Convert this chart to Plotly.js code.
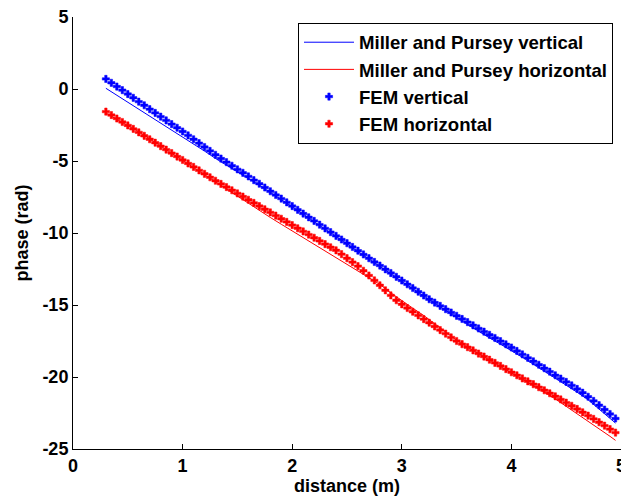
<!DOCTYPE html>
<html>
<head>
<meta charset="utf-8">
<script src="https://cdn.plot.ly/plotly-3.0.1.min.js"></script>
<style>html,body{margin:0;padding:0;background:#fff;}#chart{width:621px;height:501px;}</style>
</head>
<body>
<div id="chart"></div>
<script>
// FEM sample positions (m)
var femX = [0.30,0.35,0.40,0.45,0.50,0.55,0.60,0.65,0.70,0.75,0.80,0.85,0.90,0.95,1.00,1.05,1.10,1.15,1.20,1.25,1.30,1.35,1.40,1.45,1.50,1.55,1.60,1.65,1.70,1.75,1.80,1.85,1.90,1.95,2.00,2.05,2.10,2.15,2.20,2.25,2.30,2.35,2.40,2.45,2.50,2.55,2.60,2.65,2.70,2.75,2.80,2.85,2.90,2.95,3.00,3.05,3.10,3.15,3.20,3.25,3.30,3.35,3.40,3.45,3.50,3.55,3.60,3.65,3.70,3.75,3.80,3.85,3.90,3.95,4.00,4.05,4.10,4.15,4.20,4.25,4.30,4.35,4.40,4.45,4.50,4.55,4.60,4.65,4.70,4.75,4.80,4.85,4.90,4.95];
// FEM vertical phase (rad)
var femVertical = [0.70,0.43,0.17,-0.08,-0.35,-0.61,-0.88,-1.13,-1.40,-1.66,-1.92,-2.18,-2.44,-2.69,-2.95,-3.22,-3.49,-3.76,-4.03,-4.30,-4.57,-4.83,-5.08,-5.33,-5.58,-5.82,-6.07,-6.33,-6.58,-6.84,-7.10,-7.36,-7.61,-7.87,-8.13,-8.39,-8.65,-8.91,-9.16,-9.42,-9.68,-9.94,-10.20,-10.45,-10.71,-10.97,-11.23,-11.49,-11.75,-12.01,-12.26,-12.52,-12.78,-13.04,-13.30,-13.56,-13.82,-14.08,-14.34,-14.60,-14.83,-15.06,-15.29,-15.52,-15.75,-15.97,-16.19,-16.41,-16.63,-16.85,-17.07,-17.29,-17.51,-17.73,-17.95,-18.19,-18.43,-18.67,-18.91,-19.15,-19.39,-19.63,-19.88,-20.11,-20.34,-20.58,-20.83,-21.09,-21.37,-21.66,-21.96,-22.26,-22.57,-22.88];
// FEM horizontal phase (rad)
var femHorizontal = [-1.57,-1.81,-2.05,-2.29,-2.53,-2.77,-3.01,-3.25,-3.49,-3.73,-3.97,-4.21,-4.45,-4.69,-4.93,-5.17,-5.41,-5.65,-5.89,-6.13,-6.37,-6.59,-6.81,-7.03,-7.25,-7.47,-7.69,-7.91,-8.13,-8.35,-8.57,-8.79,-9.01,-9.23,-9.45,-9.67,-9.89,-10.11,-10.33,-10.55,-10.77,-10.99,-11.20,-11.47,-11.75,-12.02,-12.30,-12.62,-12.95,-13.29,-13.63,-13.98,-14.33,-14.67,-14.95,-15.21,-15.47,-15.72,-15.98,-16.23,-16.49,-16.74,-16.99,-17.25,-17.50,-17.72,-17.93,-18.15,-18.37,-18.58,-18.80,-19.02,-19.23,-19.45,-19.67,-19.88,-20.10,-20.30,-20.50,-20.71,-20.92,-21.13,-21.34,-21.56,-21.78,-22.00,-22.22,-22.45,-22.68,-22.91,-23.14,-23.38,-23.62,-23.86];
// Miller and Pursey positions (m)
var mpX = [0.3,0.4,0.5,0.6,0.7,0.8,0.9,1.0,1.1,1.2,1.3,1.4,1.5,1.6,1.7,1.8,1.9,2.0,2.1,2.2,2.3,2.4,2.5,2.6,2.7,2.8,2.9,3.0,3.1,3.2,3.3,3.4,3.5,3.6,3.7,3.8,3.9,4.0,4.1,4.2,4.3,4.4,4.5,4.6,4.7,4.8,4.9,4.95];
var mpVertical = [0.05,-0.43,-0.90,-1.38,-1.85,-2.34,-2.82,-3.30,-3.79,-4.31,-4.82,-5.28,-5.73,-6.19,-6.68,-7.18,-7.66,-8.18,-8.68,-9.22,-9.72,-10.25,-10.74,-11.29,-11.79,-12.32,-12.83,-13.37,-13.87,-14.42,-14.93,-15.41,-15.87,-16.35,-16.83,-17.28,-17.72,-18.16,-18.63,-19.11,-19.59,-20.09,-20.57,-21.06,-21.58,-22.22,-22.86,-23.20];
var mpHorizontal = [-1.67,-2.10,-2.51,-2.98,-3.47,-3.97,-4.43,-4.95,-5.45,-5.94,-6.45,-6.93,-7.43,-7.94,-8.43,-8.92,-9.39,-9.85,-10.31,-10.78,-11.25,-11.70,-12.15,-12.60,-13.09,-13.57,-14.16,-14.71,-15.22,-15.73,-16.29,-16.87,-17.45,-17.93,-18.37,-18.82,-19.23,-19.70,-20.15,-20.60,-21.05,-21.52,-22.03,-22.55,-23.05,-23.58,-24.12,-24.40];
var seriesNames = ['Miller and Pursey vertical','Miller and Pursey horizontal','FEM vertical','FEM horizontal'];
var xTickVals = [0,1,2,3,4,5];
var xTickText = ['0','1','2','3','4','5'];
var yTickVals = [-25,-20,-15,-10,-5,0,5];
var yTickText = ['-25','-20','-15','-10','-5','0','5'];

var FONT = 'Liberation Sans, Arial, sans-serif';
var tickFont = {family: FONT, size: 18, color: '#000', weight: 'bold'};

var traces = [
  {x: mpX, y: mpVertical, name: seriesNames[0], type: 'scatter', mode: 'lines', line: {color: '#0000ff', width: 1}},
  {x: mpX, y: mpHorizontal, name: seriesNames[1], type: 'scatter', mode: 'lines', line: {color: '#ff0000', width: 1}},
  {x: femX, y: femVertical, name: seriesNames[2], type: 'scatter', mode: 'markers', marker: {color: '#0000ff', symbol: 'cross', size: 6, line: {color: '#0000ff', width: 0.5}}},
  {x: femX, y: femHorizontal, name: seriesNames[3], type: 'scatter', mode: 'markers', marker: {color: '#ff0000', symbol: 'cross', size: 6, line: {color: '#ff0000', width: 0.5}}}
];

var layout = {
  width: 621, height: 501,
  margin: {l: 73, r: 0, t: 17, b: 52, pad: 0},
  paper_bgcolor: '#fff', plot_bgcolor: '#fff',
  showlegend: true,
  legend: {
    x: 0.4106, y: 0.987, xanchor: 'left', yanchor: 'top',
    bgcolor: '#fff', bordercolor: '#000', borderwidth: 1,
    font: {family: FONT, size: 18.6, color: '#000', weight: 'bold'},
    itemwidth: 50, tracegroupgap: 0
  },
  xaxis: {
    range: [0, 5], tickmode: 'array', tickvals: xTickVals, ticktext: xTickText,
    ticks: 'inside', ticklen: 5, tickcolor: '#000', tickwidth: 1,
    showline: true, linecolor: '#000', linewidth: 1, mirror: false,
    showgrid: false, zeroline: false, tickfont: tickFont, ticklabeloverflow: 'allow',
    title: {text: 'distance (m)', font: tickFont, standoff: 4}
  },
  yaxis: {
    range: [-25, 5], tickmode: 'array', tickvals: yTickVals, ticktext: yTickText,
    ticks: 'inside', ticklen: 5, tickcolor: '#000', tickwidth: 1,
    showline: true, linecolor: '#000', linewidth: 1, mirror: false,
    showgrid: false, zeroline: false, tickfont: tickFont,
    title: {text: 'phase (rad)', font: tickFont, standoff: 9}
  }
};

Plotly.newPlot('chart', traces, layout, {displayModeBar: false, staticPlot: true});
</script>
</body>
</html>
